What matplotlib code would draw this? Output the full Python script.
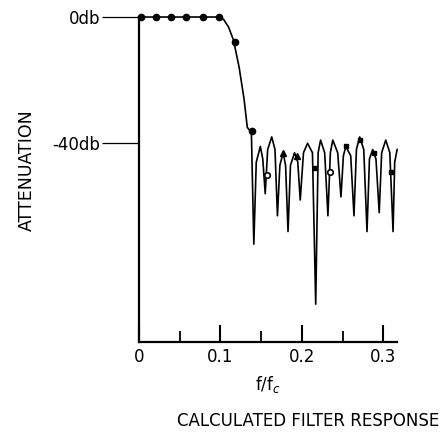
import matplotlib
matplotlib.use("Agg")
import matplotlib.pyplot as plt

# response curve (f/fc, dB)
freq = [0.0, 0.05, 0.098, 0.104, 0.110, 0.116, 0.123, 0.129, 0.133, 0.138,
        0.141, 0.144, 0.149, 0.152, 0.155, 0.158, 0.163, 0.167, 0.170, 0.173,
        0.177, 0.180, 0.183, 0.186, 0.191, 0.195, 0.198, 0.202, 0.207, 0.213,
        0.217, 0.220, 0.223, 0.228, 0.232, 0.235, 0.238, 0.244, 0.248, 0.251,
        0.254, 0.260, 0.264, 0.267, 0.271, 0.276, 0.280, 0.283, 0.287, 0.291,
        0.295, 0.298, 0.303, 0.308, 0.312, 0.314, 0.317]
atten = [0, 0, 0, -0.8, -3.2, -7.3, -16, -26, -35, -36.5,
         -72, -46, -41, -45, -56, -42, -38, -42, -63, -47,
         -43, -47, -68, -47, -43, -46, -58, -43, -40, -43,
         -91, -43, -39, -43, -63, -43, -39, -43, -57, -44,
         -41, -44, -63, -42, -38, -42, -68, -45, -42, -45,
         -62, -43, -39, -43, -68, -46, -42]

# passband dots
dot_f = [0.003, 0.021, 0.039, 0.058, 0.078, 0.098, 0.118, 0.139]
dot_db = [0, 0, 0, 0, 0, 0, -8, -36]
# other small symbols in the stopband
circ_f = [0.157, 0.235]
circ_db = [-50, -49]
tri_f = [0.177, 0.194]
tri_db = [-43, -44]
sq_f = [0.216, 0.254, 0.272, 0.289, 0.309]
sq_db = [-48, -41, -39, -43, -49]

xticks = [0, 0.1, 0.2, 0.3]
xlabels = ['0', '0.1', '0.2', '0.3']
yticks = [0, -40]
ylabels = ['0db', '-40db']

plt.rcParams['font.family'] = ['DejaVu Sans']

fig = plt.figure(figsize=(4.42, 4.32), dpi=100)
ax = fig.add_axes([0.3145, 0.2083, 0.584, 0.7523])

ax.plot(freq, atten, color='black', lw=1.2, clip_on=False)
ax.plot(dot_f, dot_db, 'o', color='black', ms=4.5, clip_on=False)
ax.plot(circ_f, circ_db, 'o', mfc='white', mec='black', ms=4, mew=1.2)
ax.plot(tri_f, tri_db, '^', color='black', ms=4)
ax.plot(sq_f, sq_db, 's', color='black', ms=3)

ax.set_xlim(0, 0.317)
ax.set_ylim(-103, 0)

for s in ['top', 'right']:
    ax.spines[s].set_visible(False)
for s in ['left', 'bottom']:
    ax.spines[s].set_linewidth(1.6)

ax.set_xticks(xticks)
ax.set_xticklabels(xlabels, fontsize=12)
ax.set_xticks([0.05, 0.15, 0.25], minor=True)
ax.tick_params(axis='x', which='major', direction='in', length=12, width=1.5, pad=4)
ax.tick_params(axis='x', which='minor', direction='in', length=8, width=1.3)

ax.set_yticks(yticks)
ax.set_yticklabels(ylabels, fontsize=12)
ax.tick_params(axis='y', direction='out', length=27, width=0.9, pad=1)

ax.set_xlabel('f/f$_c$', fontsize=12, labelpad=6)

fig.text(27 / 442, 1 - 170 / 432, 'ATTENUATION', rotation=90,
         ha='center', va='center', fontsize=12.5)
fig.text(308 / 442, 1 - 421 / 432, 'CALCULATED FILTER RESPONSE',
         ha='center', va='center', fontsize=12)

fig.savefig('out.png', dpi=100)
